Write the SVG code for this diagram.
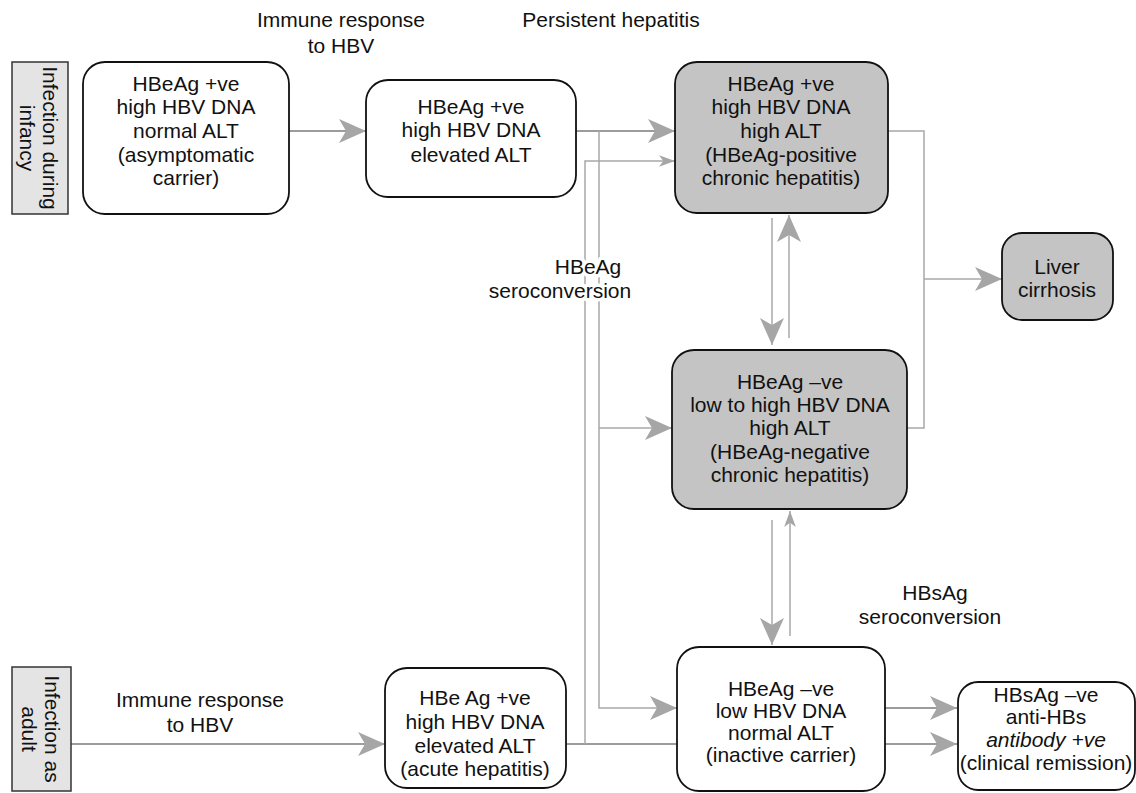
<svg xmlns="http://www.w3.org/2000/svg" width="1136" height="793" viewBox="0 0 1136 793">
<style>
text{font-family:"Liberation Sans",Arial,sans-serif;font-size:21px;fill:#111;text-anchor:middle}
.box{fill:#fff;stroke:#111;stroke-width:1.8}
.dark{fill:#c4c4c4;stroke:#111;stroke-width:1.8}
.lab{fill:#e4e4e4;stroke:#333;stroke-width:1.5}
.c{fill:none;stroke:#9c9c9c;stroke-width:2}
.t{fill:none;stroke:#a8a8a8;stroke-width:1.5}
.it{font-style:italic}
.halo{stroke:#fff;stroke-width:7;paint-order:stroke;stroke-linejoin:round}
</style>
<defs>
<marker id="big" markerUnits="userSpaceOnUse" markerWidth="28" markerHeight="24" viewBox="0 0 27 24" refX="27" refY="12" orient="auto">
<path d="M27,12 L0,0 L7,12 L0,24 Z" fill="#a6a6a6"/>
</marker>
<marker id="small" markerUnits="userSpaceOnUse" markerWidth="16" markerHeight="12" viewBox="0 0 15 11" refX="15" refY="5.5" orient="auto">
<path d="M15,5.5 L0,0 L4,5.5 L0,11 Z" fill="#a6a6a6"/>
</marker>
</defs>

<g id="connectors">
<path class="c" d="M289,131 H366" marker-end="url(#big)"/>
<path class="c" d="M576,131 H675" marker-end="url(#big)"/>
<path class="t" d="M599,131 V708 H677" marker-end="url(#big)"/>
<path class="t" d="M599,428 H672" marker-end="url(#big)"/>
<path class="c" d="M566,744 H678"/>
<path class="t" d="M585,744 V161 H675" marker-end="url(#small)"/>
<path class="t" d="M888,131 H924 V428 H907"/>
<path class="t" d="M924,279 H1002" marker-end="url(#big)"/>
<path class="t" d="M772,218 V345" marker-end="url(#big)"/>
<path class="t" d="M789,338 V215" marker-end="url(#big)"/>
<path class="t" d="M772,520 V645" marker-end="url(#big)"/>
<path class="t" d="M790,636 V511" marker-end="url(#small)"/>
<path class="c" d="M885,708 H957" marker-end="url(#big)"/>
<path class="c" d="M885,744 H957" marker-end="url(#big)"/>
<path class="c" d="M71,744 H385" marker-end="url(#big)"/>
</g>

<g id="label-infancy">
<rect class="lab" x="12" y="62" width="56" height="152"/>
<g transform="translate(40,138) rotate(90)">
<text x="0" y="-3">Infection during</text>
<text x="0" y="20">infancy</text>
</g>
</g>

<g id="label-adult">
<rect class="lab" x="12" y="667" width="59" height="124"/>
<g transform="translate(41,729) rotate(90)">
<text x="0" y="-4">Infection as</text>
<text x="0" y="19">adult</text>
</g>
</g>

<g id="lbl-immune-top">
<text x="341" y="27">Immune response</text>
<text x="341" y="53">to HBV</text>
</g>
<g id="lbl-persistent">
<text x="611" y="27">Persistent hepatitis</text>
</g>
<g id="lbl-hbeag-sero">
<text class="halo" x="588" y="274">HBeAg</text>
<text class="halo" x="560" y="298">seroconversion</text>
</g>
<g id="lbl-hbsag-sero">
<text x="935" y="600">HBsAg</text>
<text x="930" y="624">seroconversion</text>
</g>
<g id="lbl-immune-bottom">
<text x="200" y="707">Immune response</text>
<text x="200" y="732">to HBV</text>
</g>

<g id="n-asymptomatic">
<rect class="box" x="83" y="62" width="206" height="152" rx="22"/>
<text x="186" y="91">HBeAg +ve</text>
<text x="186" y="114">high HBV DNA</text>
<text x="186" y="138">normal ALT</text>
<text x="186" y="162">(asymptomatic</text>
<text x="186" y="185">carrier)</text>
</g>

<g id="n-elevated">
<rect class="box" x="366" y="80" width="210" height="117" rx="22"/>
<text x="471" y="114">HBeAg +ve</text>
<text x="471" y="137">high HBV DNA</text>
<text x="471" y="162">elevated ALT</text>
</g>

<g id="n-hbeag-pos">
<rect class="dark" x="675" y="62" width="213" height="151" rx="22"/>
<text x="781" y="91">HBeAg +ve</text>
<text x="781" y="114">high HBV DNA</text>
<text x="781" y="138">high ALT</text>
<text x="781" y="162">(HBeAg-positive</text>
<text x="781" y="185">chronic hepatitis)</text>
</g>

<g id="n-cirrhosis">
<rect class="dark" x="1002" y="233" width="111" height="87" rx="20"/>
<text x="1057" y="274">Liver</text>
<text x="1057" y="297">cirrhosis</text>
</g>

<g id="n-hbeag-neg">
<rect class="dark" x="672" y="350" width="235" height="159" rx="22"/>
<text x="790" y="389">HBeAg –ve</text>
<text x="790" y="412">low to high HBV DNA</text>
<text x="790" y="435">high ALT</text>
<text x="790" y="459">(HBeAg-negative</text>
<text x="790" y="482">chronic hepatitis)</text>
</g>

<g id="n-acute">
<rect class="box" x="385" y="668" width="181" height="120" rx="22"/>
<text x="475" y="705">HBe Ag +ve</text>
<text x="475" y="729">high HBV DNA</text>
<text x="475" y="753">elevated ALT</text>
<text x="475" y="776">(acute hepatitis)</text>
</g>

<g id="n-inactive">
<rect class="box" x="677" y="647" width="208" height="144" rx="22"/>
<text x="781" y="696">HBeAg –ve</text>
<text x="781" y="718">low HBV DNA</text>
<text x="781" y="740">normal ALT</text>
<text x="781" y="762">(inactive carrier)</text>
</g>

<g id="n-remission">
<rect class="box" x="958" y="682" width="177" height="108" rx="20"/>
<text x="1046" y="702">HBsAg –ve</text>
<text x="1046" y="724">anti-HBs</text>
<text x="1046" y="747" class="it">antibody +ve</text>
<text x="1046" y="770">(clinical remission)</text>
</g>
</svg>
